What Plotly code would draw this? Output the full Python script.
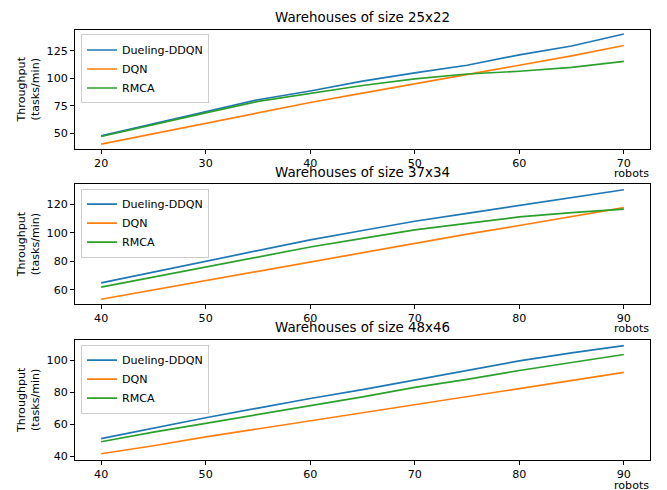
import plotly.graph_objects as go

# Throughput (tasks/min) against number of robots, three warehouse sizes
robots_small = [20, 25, 30, 35, 40, 45, 50, 55, 60, 65, 70]
robots_large = [40, 45, 50, 55, 60, 65, 70, 75, 80, 85, 90]

ddqn_25x22 = [47.5, 58.5, 70, 80.5, 88.5, 97.5, 105, 112, 121.5, 129.5, 140.5]
dqn_25x22 = [40, 49.5, 59, 69, 78, 86.5, 95, 103, 111.5, 120.5, 130]
rmca_25x22 = [47, 58, 68.5, 79, 86, 93.5, 99.5, 104, 106.5, 110, 115.5]

ddqn_37x34 = [65, 72.5, 80, 87.5, 95, 101.5, 108, 113.5, 119, 124.5, 130]
dqn_37x34 = [53.5, 60, 67, 73.5, 80, 86.5, 93, 99, 105, 111, 117.5]
rmca_37x34 = [62, 69, 76, 83, 90, 96, 102, 106.5, 111, 114, 116.5]

ddqn_48x46 = [51, 57.5, 64, 70, 76, 81.5, 87.5, 93.5, 99.5, 104.5, 109]
dqn_48x46 = [41.5, 46.5, 52, 57, 62, 67, 72, 77, 82, 87, 92.3]
rmca_48x46 = [49, 55, 60.5, 66, 71.5, 77, 83, 88, 93.5, 98.5, 103.5]

titles = ["Warehouses of size 25x22", "Warehouses of size 37x34", "Warehouses of size 48x46"]
series_names = ["Dueling-DDQN", "DQN", "RMCA"]
colors = ["#1f77b4", "#ff7f0e", "#2ca02c"]

x_ticks = [[20, 30, 40, 50, 60, 70], [40, 50, 60, 70, 80, 90], [40, 50, 60, 70, 80, 90]]
y_ticks = [[50, 75, 100, 125], [60, 80, 100, 120], [40, 60, 80, 100]]
x_ranges = [[17.5, 72.5], [37.5, 92.5], [37.5, 92.5]]
y_ranges = [[35.5, 144.3], [50.1, 133.75], [37.5, 112.6]]

panels = [
    (robots_small, [ddqn_25x22, dqn_25x22, rmca_25x22]),
    (robots_large, [ddqn_37x34, dqn_37x34, rmca_37x34]),
    (robots_large, [ddqn_48x46, dqn_48x46, rmca_48x46]),
]

W, H = 667, 490
FONT = "DejaVu Sans"
x_dom = [75 / W, 650 / W]
# axes boxes in pixels (top, bottom)
boxes = [(30, 150), (185.5, 306), (342, 463)]
legend_tops = [34.7, 189.7, 346.7]

fig = go.Figure()

for i, (xs, ys_list) in enumerate(panels):
    sfx = "" if i == 0 else str(i + 1)
    for name, ys, c in zip(series_names, ys_list, colors):
        fig.add_trace(go.Scatter(
            x=xs, y=ys, mode="lines", name=name,
            line=dict(color=c, width=1.7),
            xaxis="x" + sfx, yaxis="y" + sfx,
            legend="legend" + sfx,
        ))

layout = dict(
    width=W, height=H,
    margin=dict(l=0, r=0, t=0, b=0),
    paper_bgcolor="white", plot_bgcolor="white",
    font=dict(family=FONT, size=11.1, color="black"),
    annotations=[],
)

for i in range(3):
    sfx = "" if i == 0 else str(i + 1)
    top, bot = boxes[i]
    y_dom = [1 - bot / H, 1 - top / H]
    axis_common = dict(
        showline=True, linecolor="black", linewidth=1, mirror=True,
        ticks="outside", ticklen=4, tickwidth=1, tickcolor="black",
        showgrid=False, zeroline=False,
        tickfont=dict(family=FONT, size=11.1, color="black"),
    )
    layout["xaxis" + sfx] = dict(
        domain=x_dom, range=x_ranges[i], tickvals=x_ticks[i],
        anchor="y" + sfx, **axis_common,
    )
    layout["yaxis" + sfx] = dict(
        domain=y_dom, range=y_ranges[i], tickvals=y_ticks[i],
        anchor="x" + sfx, **axis_common,
    )
    layout["legend" + sfx] = dict(
        x=81 / W, y=1 - legend_tops[i] / H, xanchor="left", yanchor="top",
        bgcolor="rgba(255,255,255,0.8)", bordercolor="#cccccc", borderwidth=1,
        font=dict(family=FONT, size=11.1, color="black"),
        tracegroupgap=0,
    )
    # panel title
    layout["annotations"].append(dict(
        text=titles[i], xref="paper", yref="paper",
        x=(x_dom[0] + x_dom[1]) / 2, y=1 - (top - 12) / H,
        xanchor="center", yanchor="middle", showarrow=False,
        font=dict(family=FONT, size=13.4, color="black"),
    ))
    # x axis label at the right end
    layout["annotations"].append(dict(
        text="robots", xref="paper", yref="paper",
        x=651 / W, y=1 - (bot + 25) / H,
        xanchor="right", yanchor="middle", showarrow=False,
        font=dict(family=FONT, size=11.1, color="black"),
    ))
    # y axis label
    layout["annotations"].append(dict(
        text="Throughput<br>(tasks/min)", xref="paper", yref="paper",
        x=28 / W, y=1 - ((top + bot) / 2) / H, textangle=-90,
        xanchor="center", yanchor="middle", showarrow=False,
        font=dict(family=FONT, size=11.1, color="black"),
    ))

fig.update_layout(**layout)
fig.write_html("out.html")
